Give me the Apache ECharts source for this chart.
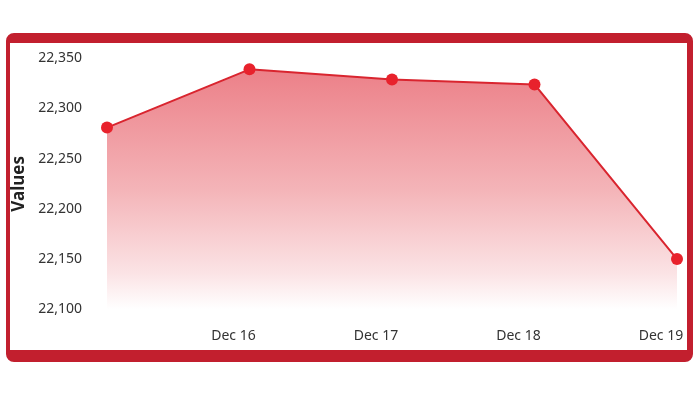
<!DOCTYPE html>
<html>
<head>
<meta charset="utf-8">
<script src="https://cdn.jsdelivr.net/npm/echarts@6/dist/echarts.min.js"></script>
<style>
  html, body { margin: 0; padding: 0; background: #fff; }
  #wrap { position: relative; width: 700px; height: 400px; }
  #frame {
    position: absolute; left: 6px; top: 33px; width: 677px; height: 307px;
    border-style: solid; border-color: #c21f2e;
    border-width: 10px 6px 12px 4px; border-radius: 8px;
  }
  #chart { position: absolute; left: 0; top: 0; width: 700px; height: 400px; }
</style>
</head>
<body>
<div id="wrap">
  <div id="frame"></div>
  <div id="chart"></div>
</div>
<script>
const categories = ['Dec 15', 'Dec 16', 'Dec 17', 'Dec 18', 'Dec 19'];
const values = [22281, 22339, 22329, 22324, 22150];
const yMin = 22100, yMax = 22350, yStep = 50;
const yName = 'Values';

const chart = echarts.init(document.getElementById('chart'), null, { renderer: 'canvas' });
chart.setOption({
  backgroundColor: 'transparent',
  animation: false,
  grid: { left: 107, right: 23, top: 58.3, bottom: 90.7 },
  xAxis: {
    type: 'category',
    data: categories,
    boundaryGap: false,
    axisLine: { show: false },
    axisTick: { show: false },
    splitLine: { show: false },
    axisLabel: {
      margin: 20,
      color: '#333',
      fontFamily: 'Noto Sans',
      fontSize: 14,
      padding: [0, 32, 0, 0],
      formatter: (v, i) => (i === 0 ? '' : v)
    }
  },
  yAxis: {
    type: 'value',
    min: yMin, max: yMax, interval: yStep,
    name: yName,
    nameLocation: 'middle',
    nameGap: 78,
    nameTextStyle: { color: '#222', fontFamily: 'Noto Sans', fontSize: 17, fontWeight: 'bold' },
    axisLine: { show: false },
    axisTick: { show: false },
    splitLine: { show: false },
    axisLabel: {
      margin: 25,
      color: '#333',
      fontFamily: 'Noto Sans',
      fontSize: 14,
      formatter: v => v.toLocaleString('en-US')
    }
  },
  series: [{
    type: 'line',
    data: values,
    symbol: 'circle',
    symbolSize: 12,
    itemStyle: { color: '#e8222c' },
    lineStyle: { color: '#d9252f', width: 2 },
    areaStyle: {
      origin: 'start',
      opacity: 1,
      color: new echarts.graphic.LinearGradient(0, 0, 0, 1, [
        { offset: 0, color: '#ec8088' },
        { offset: 0.5, color: '#f4b4b8' },
        { offset: 0.85, color: '#fbe3e5' },
        { offset: 1, color: '#ffffff' }
      ])
    }
  }]
});
</script>
</body>
</html>
